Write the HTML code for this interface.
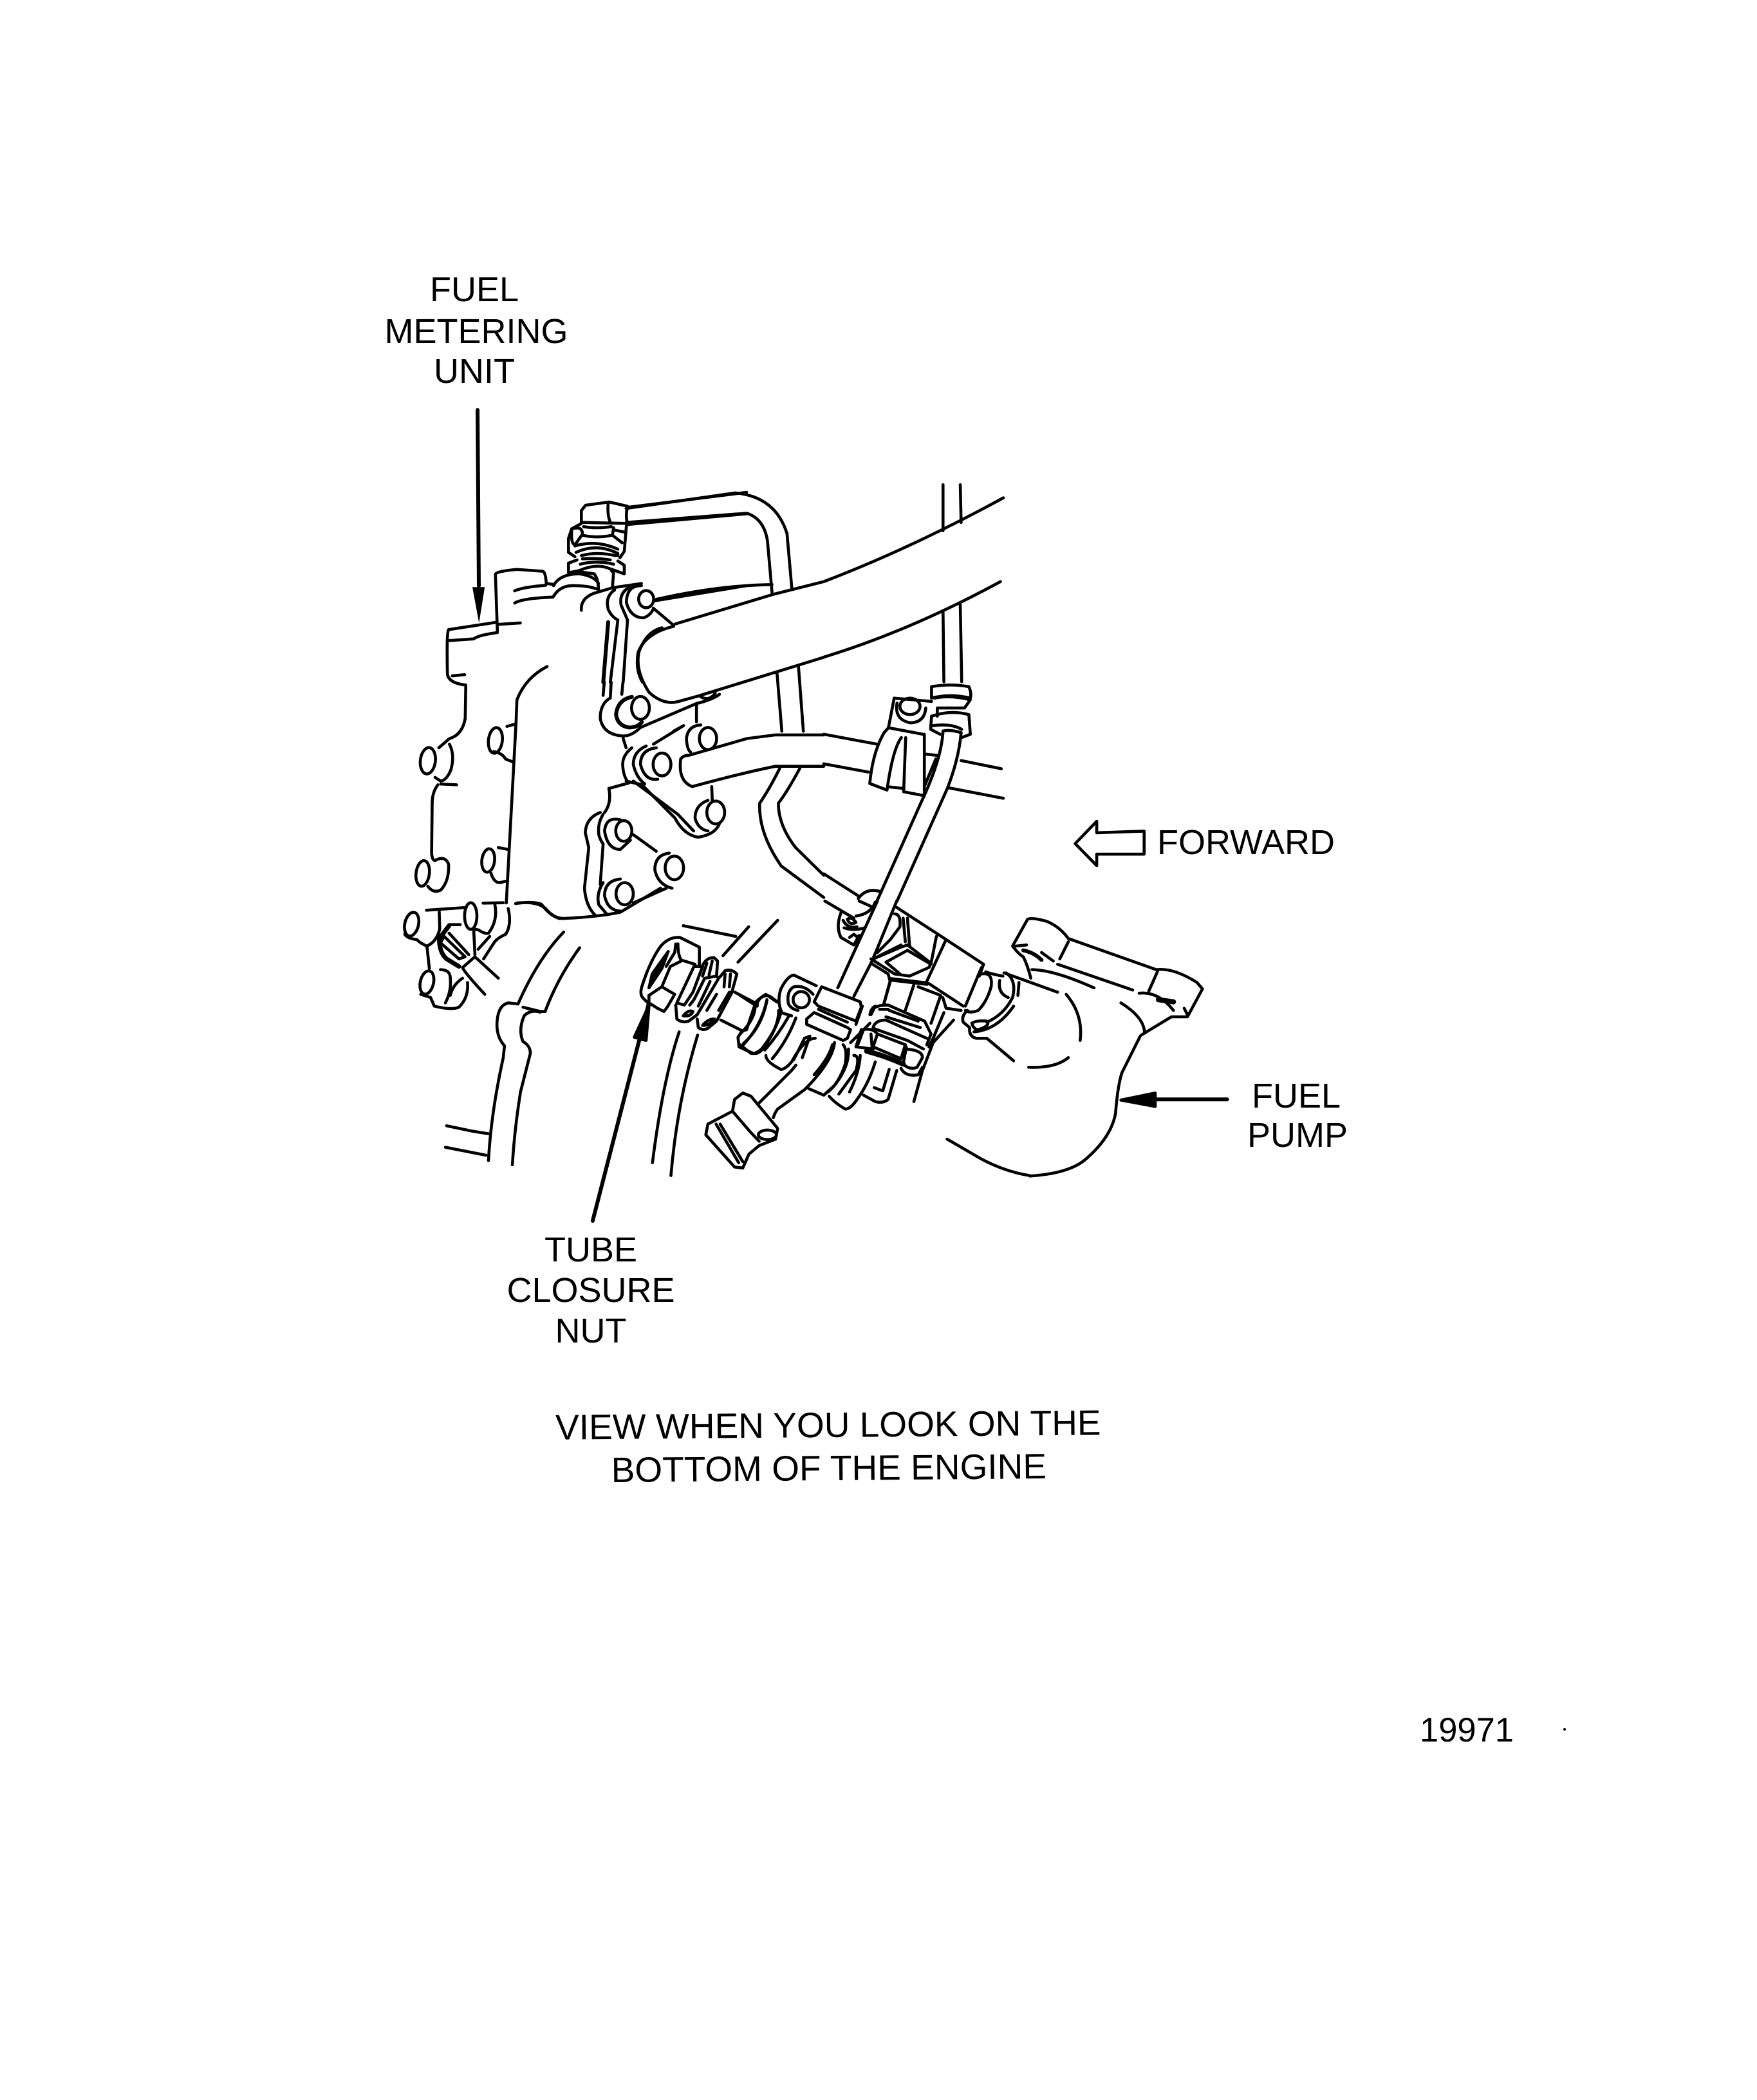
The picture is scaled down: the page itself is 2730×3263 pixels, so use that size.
<!DOCTYPE html>
<html><head><meta charset="utf-8"><style>
html,body{margin:0;padding:0;background:#fff}
svg{display:block}
path,ellipse,circle,line{fill:none;stroke:#000;stroke-width:4.6;stroke-linecap:round;stroke-linejoin:round;vector-effect:non-scaling-stroke}
text{font-family:"Liberation Sans",sans-serif;font-size:54px;fill:#000;text-anchor:middle}
</style></head><body>
<svg width="2730" height="3263" viewBox="0 0 2730 3263" xmlns="http://www.w3.org/2000/svg">
<rect width="2730" height="3263" fill="#fff"/>
<text x="737" y="468">FUEL</text><text x="740" y="533">METERING</text><text x="737" y="595">UNIT</text>
<text x="1936" y="1327">FORWARD</text>
<text x="2014" y="1721">FUEL</text><text x="2016" y="1782">PUMP</text>
<text x="918" y="1960">TUBE</text><text x="918" y="2023">CLOSURE</text><text x="918" y="2086">NUT</text>
<text x="1287" y="2233" transform="rotate(-0.5 1287 2233)" style="font-size:55px">VIEW WHEN YOU LOOK ON THE</text>
<text x="1288" y="2300" transform="rotate(-0.5 1288 2300)" style="font-size:55px">BOTTOM OF THE ENGINE</text>
<text x="2279" y="2706" style="font-size:52.5px">19971</text>
<circle cx="2431" cy="2687" r="2" style="fill:#000;stroke:none"/>

<path d="M742 637 L744 910" style="stroke-width:6"/>

<!-- Z1 -->
<g transform="translate(580,720) scale(0.4464,0.574)">
<path d="M345 335 L388 335 L368 432 Z" style="fill:#000;stroke:none"/>
<path d="M432 455 L425 300 Q430 292 500 287 L590 292 Q600 295 602 325 L630 328"/>
<path d="M492 345 Q520 335 600 330"/>
<path d="M492 378 Q520 365 625 362 L632 355"/>
<path d="M430 430 L262 450 Q255 455 258 570 Q262 595 322 600 L320 690 Q310 735 265 745 L228 770"/>
<path d="M258 480 L350 475 Q365 465 432 458"/><path d="M432 436 L512 432"/><path d="M275 575 L318 572"/>
<ellipse cx="190" cy="805" rx="26" ry="36" transform="rotate(12 190 805)"/>
<path d="M265 760 Q285 790 270 830 Q255 858 235 860 L215 850"/><path d="M235 868 L290 870"/>
<path d="M225 870 Q205 890 205 920 L203 1055 Q205 1075 215 1075 Q250 1060 262 1085 Q265 1130 235 1155 Q210 1165 190 1145"/>
<ellipse cx="172" cy="1110" rx="23" ry="35" transform="rotate(12 172 1110)"/>
<path d="M605 550 Q530 580 500 640 L497 700 L463 1190"/><path d="M497 705 L465 712"/>
<ellipse cx="425" cy="750" rx="24" ry="35" transform="rotate(12 425 750)"/>
<path d="M420 780 Q450 785 460 800 L485 808"/>
<path d="M470 1045 L435 1040"/><ellipse cx="400" cy="1075" rx="22" ry="32" transform="rotate(12 400 1075)"/>
<path d="M410 1110 Q420 1135 440 1135 L468 1130"/>
<path d="M500 1190 Q570 1185 600 1205 Q625 1230 660 1232 Q780 1228 860 1215 L1000 1150"/>
<path d="M804 592 L800 628"/><path d="M869 592 L865 625"/><path d="M828 592 L825 635"/>
<circle cx="930" cy="662" r="31"/>
<path d="M900 632 Q850 640 845 680 Q850 710 890 715 Q920 715 935 700" style="stroke-width:6"/>
<path d="M825 635 Q790 650 790 690 Q800 735 870 738 Q900 738 930 715 L1125 650 L1125 700"/>
<path d="M1125 650 Q1180 640 1205 625"/><path d="M1140 632 Q1170 645 1190 622"/>
<path d="M1568 320 L1390 355 L1050 435"/><path d="M1005 445 Q950 455 925 510 Q910 560 960 620 Q1010 655 1060 645 L1130 630 L1568 525"/>
<path d="M985 368 Q1200 330 1388 328"/>
<path d="M880 122 L1260 80 Q1400 90 1440 190 L1457 340"/>
<path d="M880 160 L1300 135 Q1360 150 1372 210 L1388 350"/>
<path d="M1568 735 L1400 735 L1300 745 L1100 790 Q1080 790 1070 800 Q1060 860 1110 875 Q1300 835 1400 820 L1568 820"/>
<path d="M1405 565 L1422 725"/><path d="M1480 550 L1497 725"/>
<path d="M1415 825 Q1380 880 1345 920 Q1340 1000 1420 1090 L1568 1175"/>
<path d="M1485 825 Q1440 890 1410 920 Q1410 980 1470 1040 L1568 1115"/>
<circle cx="1165" cy="745" r="30"/>
<path d="M1140 708 Q1095 710 1090 745 Q1092 775 1105 782"/>
<path d="M975 760 L1080 710 L1045 725"/>
<circle cx="1005" cy="815" r="31"/>
<path d="M985 770 Q930 775 930 815 Q945 860 990 855"/>
<path d="M950 765 Q905 780 905 815 Q915 850 945 868"/>
<path d="M900 770 Q868 790 868 815 Q870 850 890 865 L820 880 Q830 920 805 945"/>
<path d="M880 770 L870 745"/>
<path d="M880 860 L935 870 L1050 960 Q1080 1005 1130 1012 Q1190 1005 1205 975"/>
<path d="M905 860 L1060 950 L1115 995"/>
<circle cx="1192" cy="945" r="31"/>
<path d="M1165 912 Q1120 925 1120 960 Q1130 990 1165 995"/>
<path d="M1178 875 L1180 915"/>
<circle cx="872" cy="995" r="28"/>
<path d="M860 965 Q810 955 805 995 Q815 1045 860 1045 L895 1020"/>
<path d="M800 950 Q780 975 785 1005 Q790 1020 800 1030"/>
<path d="M790 945 Q740 960 738 1000 L750 1040 L735 1150 Q740 1200 775 1225"/>
<path d="M800 1030 L790 1140"/>
<path d="M905 1005 L985 1050"/>
<circle cx="1048" cy="1095" r="32"/>
<path d="M1030 1055 Q980 1060 980 1100 Q990 1140 1040 1150"/>
<circle cx="875" cy="1165" r="30"/>
<path d="M860 1125 Q805 1130 805 1170 Q815 1210 860 1212"/>
<path d="M800 1135 Q775 1165 785 1195 L815 1222"/>
<path d="M905 1190 L1020 1150"/>
</g>

<!-- B top nut -->
<g transform="translate(860,760) scale(0.3333)">
<path d="M345 85 L900 15"/><path d="M345 165 L900 115"/>
<path d="M345 80 L260 60 L150 75 L130 100 L130 155 L340 160"/>
<path d="M345 85 Q335 120 345 165"/><path d="M255 65 Q250 120 265 155"/>
<path d="M130 160 L85 185 L70 230 L70 295 L100 315"/>
<path d="M340 170 L330 290 L310 320"/>
<path d="M85 185 Q135 170 135 210 L100 260 Q80 255 85 190"/>
<path d="M135 215 Q200 230 275 215 L280 180"/><path d="M140 175 Q200 185 270 175"/>
<path d="M275 215 L320 250"/><path d="M280 190 L330 200"/>
<path d="M100 265 Q200 235 300 280"/><path d="M105 295 Q200 250 300 300 L300 310"/>
<path d="M130 310 Q200 290 290 310"/><path d="M135 325 Q200 320 265 330"/><path d="M125 350 Q200 330 280 350"/>
<path d="M70 345 L110 330"/><path d="M70 345 L70 390 L120 380 Q200 345 260 370 L330 395 L330 355 L300 335"/>
<path d="M120 385 L190 395 Q210 420 210 475"/><path d="M270 380 L280 390 L275 455"/>
<path d="M0 450 Q30 395 120 395 Q190 405 210 440"/><path d="M0 500 Q30 450 90 450 Q160 450 200 465"/>
<path d="M130 565 Q125 510 190 485 L275 460 L410 440"/>
<ellipse cx="432" cy="513" rx="35" ry="40"/>
<path d="M410 450 Q340 450 340 530 Q360 600 420 600 Q450 590 465 560"/>
<path d="M360 455 Q305 480 315 540 L345 610 L325 900"/>
<path d="M285 470 Q240 500 255 560 Q270 595 300 610 L265 900"/>
<path d="M255 620 L232 900" style="stroke-width:6"/>
<path d="M475 520 L900 450"/><path d="M465 555 L560 635"/>
<path d="M560 640 Q430 670 395 760 Q380 840 415 900"/>
</g>

<!-- Z2 -->
<g transform="translate(1280,720) scale(0.4464,0.5102)">
<path d="M0 360 Q300 260 625 105"/><path d="M0 590 Q300 510 615 360"/>
<path d="M415 65 L415 205"/><path d="M475 65 L478 180"/><path d="M415 450 L418 665"/><path d="M475 430 L480 665"/>
<path d="M375 680 Q440 670 505 680 Q515 700 510 715 Q440 700 375 715 Z"/>
<path d="M385 715 Q440 705 510 720 L490 745 L395 745 L395 770"/>
<path d="M375 770 Q440 750 505 765 L510 825 L480 835"/>
<path d="M375 770 L372 810 L405 825"/><path d="M372 800 Q440 790 480 810"/>
<path d="M245 715 L375 725"/><path d="M245 715 L225 805 L345 825"/>
<ellipse cx="300" cy="740" rx="35" ry="25"/>
<path d="M255 730 Q245 780 300 790 Q350 790 355 745"/>
<path d="M210 820 Q170 880 160 975 L220 995 Q240 870 270 835"/><path d="M225 805 L210 820"/>
<path d="M285 835 L278 1000 L350 1012 L350 825"/><path d="M225 985 L278 990"/><path d="M350 885 L400 890"/><path d="M352 980 L390 900"/>
<path d="M415 815 Q410 900 340 1030 L185 1333"/><path d="M478 820 Q470 900 430 990 L255 1333"/><path d="M415 815 Q440 810 478 820"/>
<path d="M0 825 L185 855"/><path d="M0 915 L155 940"/><path d="M478 905 L618 930"/><path d="M435 988 L625 1020"/>
<path d="M1115 1120 L950 1125 L950 1090 L875 1158 L950 1225 L950 1190 L1115 1190 Z"/>
<path d="M0 1250 L125 1320"/><path d="M120 1325 Q150 1290 200 1305"/>
</g>

<!-- Z4 -->
<g transform="translate(560,1380) scale(0.3827,0.3333)">
<ellipse cx="208" cy="168" rx="28" ry="56" transform="rotate(10 208 168)"/>
<ellipse cx="448" cy="130" rx="25" ry="62"/>
<ellipse cx="270" cy="440" rx="27" ry="55" transform="rotate(10 270 440)"/>
<path d="M268 103 L430 90"/>
<path d="M320 110 L322 190 Q310 250 270 270 Q240 255 230 240 Q190 235 180 215"/>
<path d="M498 70 L580 68"/>
<path d="M545 70 Q560 150 520 210 Q505 215 480 195 L460 190"/>
<path d="M600 95 Q615 170 590 215 Q560 230 545 250 L500 330"/>
<path d="M460 195 L465 310"/><path d="M478 285 L525 225"/>
<path d="M270 270 L280 375"/>
<path d="M360 170 L405 170"/><path d="M360 175 L320 235 Q320 300 350 330 L400 365" style="stroke-width:7"/>
<path d="M340 225 L425 320 L400 330 L325 255 Z"/>
<path d="M360 210 L440 310"/>
<path d="M415 370 L465 320 L560 420"/><path d="M415 370 Q420 390 505 495"/>
<path d="M325 380 Q365 380 365 420 Q370 480 345 535"/>
<path d="M415 420 Q375 450 365 500"/>
<path d="M435 440 Q440 510 400 555 Q370 570 300 550 L285 510 L245 495"/>
<path d="M630 72 Q700 60 735 75 Q770 130 810 142"/>
<path d="M825 205 Q720 330 640 540"/>
<path d="M890 278 Q800 420 750 575 L730 575 L660 555"/>
<path d="M640 540 L600 535 Q560 545 555 620 Q550 690 585 735 L580 790 Q530 1050 520 1270"/>
<path d="M730 578 Q690 565 665 595 Q640 660 660 715 Q690 735 690 770 L650 950 Q625 1130 617 1290"/>
<path d="M350 1108 L450 1132 L520 1145"/><path d="M345 1208 L510 1245"/>
<path d="M1170 540 L943 1551" style="stroke-width:6"/>
<path d="M1112 695 L1160 710 L1172 545 Z" style="fill:#000"/>
</g>

<!-- C closure nut -->
<g transform="translate(970,1430) scale(0.3333)">
<path d="M275 25 L520 75"/><path d="M580 30 L460 165"/><path d="M715 0 L530 195"/>
<path d="M115 390 L85 360 Q70 340 85 300 Q120 190 170 120 Q210 75 260 80 L350 125 L350 205"/>
<path d="M250 110 Q250 160 265 185 L330 205"/>
<path d="M265 190 L215 215 L175 310 L115 350"/>
<path d="M175 310 L235 345 L200 405 L185 425 L155 410 L115 385 L115 350"/>
<path d="M205 145 L130 250 L115 315 L175 225 Z" style="fill:#000"/>
<path d="M240 110 L235 150 L195 215"/>
<path d="M365 215 L320 335 L280 395 L245 385 L325 215 L365 215"/>
<path d="M365 210 Q385 170 420 175 L435 190 L430 260"/><path d="M385 200 L365 260"/><path d="M410 190 L395 255"/>
<path d="M240 395 L245 460 Q270 480 300 470 L340 440 L440 270 L430 260 L375 270 L325 370 L305 395"/>
<path d="M345 400 L400 285"/><path d="M275 445 Q300 415 320 425 Q310 450 275 445"/>
<path d="M340 460 L345 500 Q375 520 400 495 L430 470 L500 340 L525 250 Q500 225 470 235 L445 265"/>
<path d="M470 250 L465 310"/><path d="M495 250 L490 310"/><path d="M430 345 L385 420"/>
<path d="M365 490 Q390 460 420 460 Q400 490 365 490"/><path d="M440 420 L490 335"/>
<path d="M515 335 L610 385"/><path d="M450 465 L550 515"/><path d="M610 390 L570 510 L550 515"/>
<path d="M610 385 Q650 340 680 355 L720 385"/><path d="M665 370 Q640 490 555 580"/>
<path d="M550 515 L530 545 L535 590 L600 620 Q625 625 645 600 Q720 500 720 420"/>
</g>

<!-- A central -->
<g transform="translate(1150,1400) scale(0.3333)">
<path d="M640 0 L530 240 L455 405"/><path d="M730 0 L640 220 L610 290 L530 445"/>
<path d="M610 290 L690 340 L700 375 L670 480"/>
<path d="M605 530 Q610 500 630 490"/><path d="M570 490 L540 575"/><path d="M605 570 L515 660"/><path d="M575 600 L545 680"/>
<circle cx="285" cy="460" r="38"/>
<path d="M340 435 Q300 390 250 400 Q215 420 225 480 Q240 505 270 510"/>
<path d="M190 410 Q220 350 250 345 L355 395"/><path d="M195 520 Q170 470 190 410"/>
<path d="M380 400 L560 470 L565 495 L540 560 L365 490 L345 470 Z"/>
<path d="M345 520 L310 550 L310 575 L480 650 L500 640 L515 600 L500 590 Z"/>
<path d="M365 505 L500 565"/>
<path d="M0 440 L70 485"/><path d="M80 490 Q75 460 120 435 L170 470"/>
<path d="M70 490 Q70 550 0 620"/><path d="M125 465 Q100 590 15 665"/>
<path d="M0 670 L50 710 Q70 715 100 690 Q170 600 190 520 L240 535"/>
<path d="M120 720 Q120 750 190 785 Q210 785 240 750 Q300 640 350 640"/>
<path d="M115 695 Q180 620 225 540"/><path d="M150 735 Q220 650 260 545"/>
<path d="M250 740 L300 640 L325 630 L290 730"/>
<path d="M90 940 L240 790 L260 765"/>
<path d="M155 1010 Q160 990 175 970 L300 880 Q430 750 440 660"/>
<path d="M345 810 Q415 730 430 670"/>
<path d="M320 875 L390 905 L440 860 Q510 770 505 690"/>
<path d="M480 670 Q500 690 490 760 Q460 850 410 890"/>
<path d="M415 910 Q440 940 490 970 Q515 970 545 925"/>
<path d="M530 720 Q560 720 540 790 L460 900"/><path d="M560 720 Q555 800 510 890"/>
<path d="M545 925 Q600 850 630 750"/>
<path d="M575 905 L630 935 Q665 945 690 925 L730 790"/><path d="M695 785 L665 885 L625 870"/>
<path d="M730 30 L930 160 L1135 295 L1115 350"/>
<path d="M780 80 L790 210"/>
<path d="M720 60 Q750 60 745 120 L700 180 L640 240"/><path d="M760 80 L770 190"/>
<path d="M620 270 L750 215 L780 205 L890 290 L880 310 L790 350 L720 340 L610 270"/>
<path d="M640 260 L750 205"/><path d="M680 285 L780 230 L890 295"/><path d="M680 285 L745 340"/>
<path d="M915 165 L890 290"/><path d="M960 180 L870 375"/><path d="M1125 310 L1050 490"/>
<path d="M700 365 L870 385" style="stroke-width:7"/><path d="M880 385 L1040 490"/>
<path d="M700 370 L670 480"/><path d="M810 390 L770 510"/>
<path d="M830 400 L935 440 L890 570"/><path d="M945 450 L960 500 L1030 510"/>
<path d="M610 530 L625 500 Q640 485 690 485 L860 560 L890 620 L870 670"/>
<path d="M650 505 L690 505"/><path d="M695 510 L830 560"/><path d="M680 540 L840 590"/>
<path d="M620 590 Q630 555 680 555 L870 640"/><path d="M625 595 L780 650 L855 690"/>
<path d="M640 620 L770 670 L750 735 L620 680 Z"/>
<path d="M565 600 Q620 590 640 620"/><path d="M565 600 L540 680 L620 690"/><path d="M610 620 L615 680"/>
<path d="M770 690 Q850 695 850 730 L825 775 Q790 790 760 760 L775 680"/>
<path d="M590 700 Q670 720 760 760" style="stroke-width:8"/>
<path d="M750 780 Q770 820 830 810 L850 775"/>
<path d="M995 555 L900 660 L850 790 L810 935"/><path d="M950 520 L900 640 L880 680"/>
<path d="M1125 340 Q1180 330 1170 400 Q1150 470 1110 510 Q1070 525 1050 510"/>
<path d="M1225 350 Q1170 340 1145 330"/><path d="M1240 335 Q1290 370 1270 450 Q1230 530 1150 565"/>
<path d="M1210 370 Q1200 430 1250 450"/>
<path d="M1060 510 Q1030 535 1040 565 L1070 590 Q1065 630 1100 640 L1150 640 L1275 745"/>
<path d="M1080 570 Q1100 555 1150 560 Q1170 580 1110 600 Q1090 600 1080 570"/>
<path d="M1090 610 Q1200 600 1275 490"/><path d="M1300 380 L1295 440"/>
<path d="M395 0 L530 80"/><path d="M555 0 L610 25"/>
<path d="M470 55 Q445 120 470 170 L530 205 L555 160"/>
<path d="M480 90 Q500 130 545 120"/><path d="M500 85 Q520 70 540 100 Q510 115 500 85"/>
<path d="M540 70 Q610 60 630 5"/><path d="M485 125 Q530 140 580 125"/><path d="M510 170 L530 155 L555 175"/>
<path d="M965 1110 L1120 1200 Q1230 1260 1350 1280"/>
</g>

<!-- D pump -->
<g transform="translate(1540,1400) scale(0.3333)">
<path d="M170 85 L100 210 Q130 250 150 260 Q170 300 185 360"/>
<path d="M170 85 Q190 75 260 95 Q320 120 360 175 L770 320 Q850 310 960 380 L985 410 L915 540 L840 540 L700 625"/>
<path d="M360 190 L320 270"/><path d="M775 330 L735 420"/><path d="M310 295 L660 415"/>
<path d="M190 320 Q290 320 480 405"/><path d="M115 210 L165 205"/>
<path d="M150 230 Q200 240 235 275" style="stroke-width:6"/><path d="M235 240 L290 280"/>
<path d="M690 430 Q780 420 850 510"/><path d="M780 460 L850 470" style="stroke-width:8"/><path d="M900 500 L915 530"/>
<path d="M60 335 L310 425"/><path d="M350 435 Q430 530 415 650"/><path d="M175 775 Q300 780 360 730"/>
<path d="M605 475 Q710 540 715 610"/>
<path d="M695 630 L610 800 Q590 860 580 990 Q560 1100 445 1200 Q370 1270 180 1282"/>
<path d="M1100 925 L760 925" style="stroke-width:6"/>
<path d="M605 928 L765 895 L765 958 Z" style="fill:#000"/>
</g>

<!-- Z3 cap and casing -->
<g transform="translate(950,1380) scale(0.6378,0.3333)">
<path d="M320 955 L300 985 L295 1040 L235 1100 L230 1150 L300 1300 L320 1305 L335 1240 L360 1200 L400 1170 L405 1120 L340 970 Z"/>
<path d="M295 1040 L340 1140 L360 1180"/><circle cx="380" cy="1150" r="22"/>
<path d="M255 1100 L310 1280"/><path d="M265 1100 L320 1275"/>
<path d="M165 670 Q125 900 100 1280"/><path d="M210 685 Q160 1000 145 1340"/>
</g>
</svg>
</body></html>
